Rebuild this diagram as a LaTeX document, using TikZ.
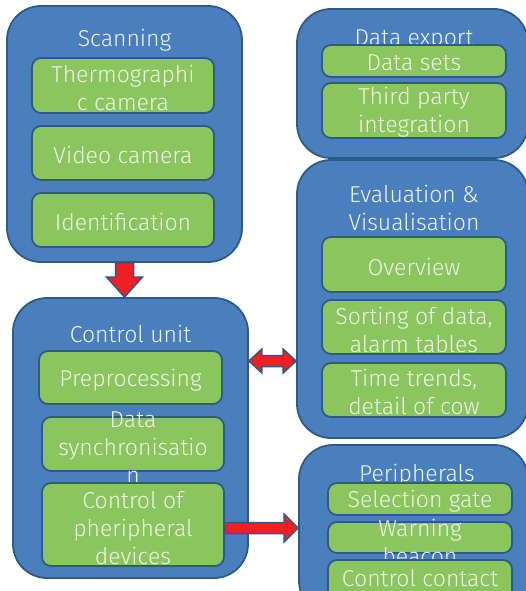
\documentclass[tikz,border=0pt]{standalone}
\usepackage{fontspec}
\setmainfont{Fira Sans Light}
\usetikzlibrary{calc}
\definecolor{boxblue}{HTML}{4A7FBD}
\definecolor{edgeblue}{HTML}{2E5A88}
\definecolor{boxgreen}{HTML}{8BC55E}
\definecolor{txt}{HTML}{EEF4EA}
\definecolor{arrred}{HTML}{EE2024}
\begin{document}
\begin{tikzpicture}[x=1pt,y=-1pt,
  outer/.style={draw=edgeblue, line width=1.8pt, fill=boxblue, rounded corners=34pt, inner sep=0pt},
  inner/.style={draw=edgeblue, line width=1.8pt, fill=boxgreen, rounded corners=9pt, inner sep=0pt},
  lbl/.style={text=txt, font=\fontsize{23}{28}\selectfont, align=center, inner sep=0pt},
  barrow/.style={draw=edgeblue, line width=1.5pt, fill=arrred, line join=miter}]
\useasboundingbox (0,0) rectangle (526,591);
\clip (0,0) rectangle (526,591);
% Scanning
\node[outer, minimum width=235pt, minimum height=256pt] (scan) at (124.5,134) {};
\node[lbl] (scanT) at (124.5,40) {Scanning};
\node[inner, minimum width=182pt, minimum height=55pt] (thermo) at (123,85.5) {};
\node[lbl] (thermoT) at (123,87.5) {Thermographi\\c camera};
\node[inner, minimum width=182pt, minimum height=54pt] (video) at (123,153) {};
\node[lbl] (videoT) at (123,155) {Video camera};
\node[inner, minimum width=182pt, minimum height=54pt] (ident) at (123,220) {};
\node[lbl] (identT) at (123,221.5) {Identification};
% Control unit
\node[outer, minimum width=235pt, minimum height=280pt] (ctrl) at (130.5,438) {};
\node[lbl] (ctrlT) at (130.5,333.5) {Control unit};
\node[inner, minimum width=183pt, minimum height=53pt] (prep) at (130.5,377.5) {};
\node[lbl] (prepT) at (130.5,380) {Preprocessing};
\node[inner, minimum width=182pt, minimum height=54pt] (sync) at (133,444) {};
\node[lbl] (syncT) at (133,447.5) {Data\\synchronisatio\\n};
\node[inner, minimum width=182pt, minimum height=83pt] (cpd) at (133,524.5) {};
\node[lbl] (cpdT) at (133,528.5) {Control of\\pheripheral\\devices};
% Data export
\node[outer, minimum width=231pt, minimum height=149pt] (export) at (412.5,83.5) {};
\node[lbl] (exportT) at (414,39.5) {Data export};
\node[inner, minimum width=184pt, minimum height=32pt] (dsets) at (414,61) {};
\node[lbl] (dsetsT) at (414,62.5) {Data sets};
\node[inner, minimum width=184pt, minimum height=55pt] (third) at (414,110.5) {};
\node[lbl] (thirdT) at (414,112.5) {Third party\\integration};
% Evaluation
\node[outer, minimum width=231pt, minimum height=278pt] (eval) at (412.5,299) {};
\node[lbl] (evalT) at (414,207.5) {Evaluation \&\\Visualisation};
\node[inner, minimum width=184pt, minimum height=55pt] (over) at (414,264.5) {};
\node[lbl] (overT) at (414,267) {Overview};
\node[inner, minimum width=184pt, minimum height=54pt] (sort) at (414,327) {};
\node[lbl] (sortT) at (414,329.5) {Sorting of data,\\alarm tables};
\node[inner, minimum width=184pt, minimum height=54pt] (time) at (414,390) {};
\node[lbl] (timeT) at (414,391.5) {Time trends,\\detail of cow};
% Peripherals
\node[outer, minimum width=229pt, minimum height=170pt] (peri) at (413.5,530) {};
\node[lbl] (periT) at (417,475.5) {Peripherals};
\node[inner, minimum width=184pt, minimum height=32pt] (sel) at (420,499) {};
\node[lbl] (selT) at (420,501) {Selection gate};
\node[inner, minimum width=184pt, minimum height=31pt] (warn) at (420,537.5) {};
\node[lbl] (warnT) at (420,542) {Warning\\beacon};
\node[inner, minimum width=184pt, minimum height=40pt] (cc) at (420,580) {};
\node[lbl] (ccT) at (420,578) {Control contact};
% arrows
\coordinate (d0) at (scan.south);
\coordinate (d1) at (scan.south |- ctrl.north);
\draw[barrow] ($(d0)+(-9,0)$) -- ($(d1)+(-9,-20)$) -- ($(d1)+(-18,-20)$) -- (d1) -- ($(d1)+(18,-20)$) -- ($(d1)+(9,-20)$) -- ($(d0)+(9,0)$) -- cycle;
\coordinate (dy) at (0,361);
\coordinate (L) at (ctrl.east |- dy);
\coordinate (R) at (eval.west |- dy);
\draw[barrow] (L) -- ($(L)+(13,-12)$) -- ($(L)+(13,-5.5)$) -- ($(R)+(-13,-5.5)$) -- ($(R)+(-13,-12)$) -- (R) -- ($(R)+(-13,12)$) -- ($(R)+(-13,5.5)$) -- ($(L)+(13,5.5)$) -- ($(L)+(13,12)$) -- cycle;
\coordinate (ry) at (0,528);
\coordinate (S) at (cpd.east |- ry);
\coordinate (T) at (peri.west |- ry);
\draw[barrow] ($(S)+(0,-5.5)$) -- ($(T)+(-14,-5.5)$) -- ($(T)+(-14,-14)$) -- (T) -- ($(T)+(-14,14)$) -- ($(T)+(-14,5.5)$) -- ($(S)+(0,5.5)$) -- cycle;
\end{tikzpicture}
\end{document}
